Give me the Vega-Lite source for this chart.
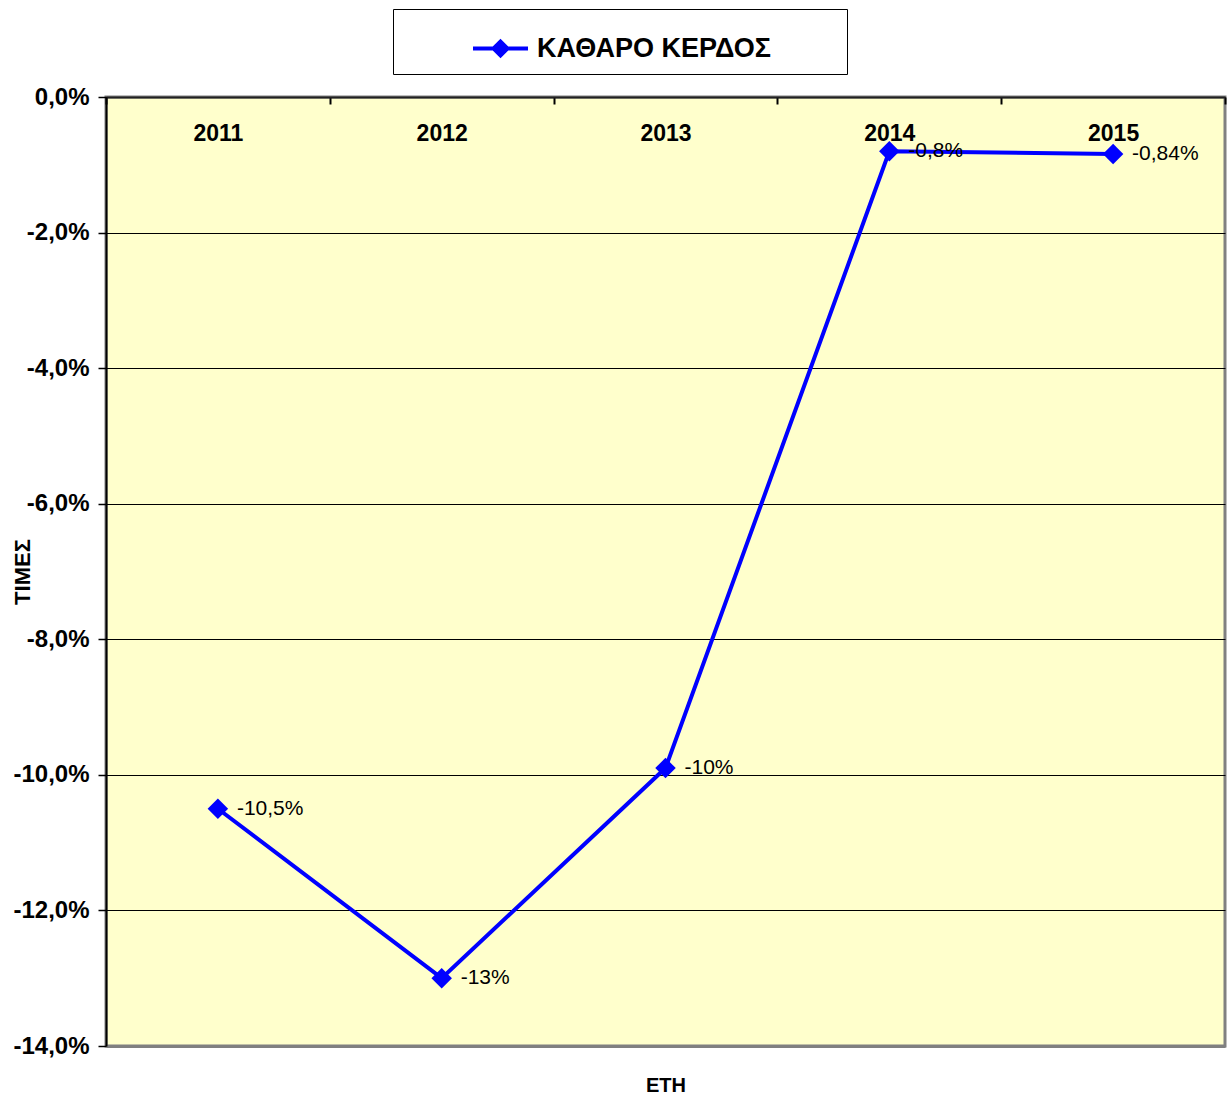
{
  "$schema": "https://vega.github.io/schema/vega-lite/v6.json",
  "width": 1119,
  "height": 949,
  "autosize": {"type": "none"},
  "padding": {"left": 106, "top": 97, "right": 2, "bottom": 49},
  "background": "white",
  "config": {
    "locale": {"number": {"decimal": ",", "thousands": ".", "grouping": [3], "currency": ["", " €"], "minus": "-"}},
    "font": "Liberation Sans",
    "view": {"fill": "#FFFFCC", "stroke": "#808080", "strokeWidth": 3}
  },
  "data": {
    "values": [
      {"year": "2011", "value": -0.105, "label": "-10,5%", "series": "ΚΑΘΑΡΟ ΚΕΡΔΟΣ"},
      {"year": "2012", "value": -0.13, "label": "-13%", "series": "ΚΑΘΑΡΟ ΚΕΡΔΟΣ"},
      {"year": "2013", "value": -0.099, "label": "-10%", "series": "ΚΑΘΑΡΟ ΚΕΡΔΟΣ"},
      {"year": "2014", "value": -0.008, "label": "-0,8%", "series": "ΚΑΘΑΡΟ ΚΕΡΔΟΣ"},
      {"year": "2015", "value": -0.0084, "label": "-0,84%", "series": "ΚΑΘΑΡΟ ΚΕΡΔΟΣ"}
    ]
  },
  "encoding": {
    "x": {
      "field": "year",
      "type": "ordinal",
      "scale": {"type": "band", "paddingInner": 0, "paddingOuter": 0},
      "axis": {
        "orient": "top",
        "tickBand": "extent",
        "ticks": true,
        "tickSize": -7,
        "tickColor": "black",
        "tickWidth": 2,
        "domainColor": "#202020",
        "domainWidth": 2,
        "labelAngle": 0,
        "labelFontSize": 23,
        "labelFontWeight": "bold",
        "labelColor": "black",
        "labelBaseline": "top",
        "labelPadding": -18,
        "grid": false,
        "title": "ΕΤΗ",
        "titleFontSize": 20,
        "titleFontWeight": "bold",
        "titleColor": "black",
        "titleBaseline": "middle",
        "titleY": 988
      }
    },
    "y": {
      "field": "value",
      "type": "quantitative",
      "scale": {"domain": [-0.14, 0], "nice": false, "zero": false},
      "axis": {
        "values": [-0.14, -0.12, -0.1, -0.08, -0.06, -0.04, -0.02, 0],
        "format": ".1%",
        "grid": true,
        "gridColor": {"condition": {"test": "datum.value < -0.139", "value": "#808080"}, "value": "black"},
        "gridWidth": {"condition": {"test": "datum.value < -0.139", "value": 3}, "value": 1},
        "gridOpacity": 1,
        "domainColor": "black",
        "domainWidth": 2,
        "tickColor": "black",
        "tickSize": 8,
        "tickWidth": 1.5,
        "labelPadding": 9,
        "labelFontSize": 24,
        "labelFontWeight": "bold",
        "labelColor": "black",
        "title": "ΤΙΜΕΣ",
        "titleFontSize": 22,
        "titleFontWeight": "bold",
        "titleColor": "black",
        "titleX": -84,
        "titleBaseline": "middle"
      }
    }
  },
  "layer": [
    {
      "mark": {
        "type": "line",
        "strokeWidth": 4,
        "point": {"shape": "diamond", "size": 420, "filled": true, "opacity": 1}
      },
      "encoding": {
        "color": {
          "field": "series",
          "type": "nominal",
          "scale": {"range": ["#0000FF"]},
          "legend": {
            "orient": "none",
            "legendX": 287,
            "legendY": -88,
            "title": "\u00a0",
            "titleOrient": "right",
            "titleFontSize": 2,
            "titlePadding": 66,
            "strokeColor": "black",
            "fillColor": "white",
            "padding": 10,
            "symbolType": "M-1,0H1M-0.25,0L0,-0.25L0.25,0L0,0.25Z",
            "symbolSize": 3025,
            "symbolFillColor": "#0000FF",
            "symbolStrokeColor": "#0000FF",
            "symbolStrokeWidth": 4,
            "symbolOffset": 68,
            "labelFontSize": 27,
            "labelFontWeight": "bold",
            "labelColor": "black",
            "labelOffset": 7,
            "labelLimit": 400
          }
        }
      }
    },
    {
      "mark": {"type": "text", "align": "left", "baseline": "middle", "dx": 19, "fontSize": 21, "color": "black"},
      "encoding": {"text": {"field": "label"}}
    }
  ]
}
